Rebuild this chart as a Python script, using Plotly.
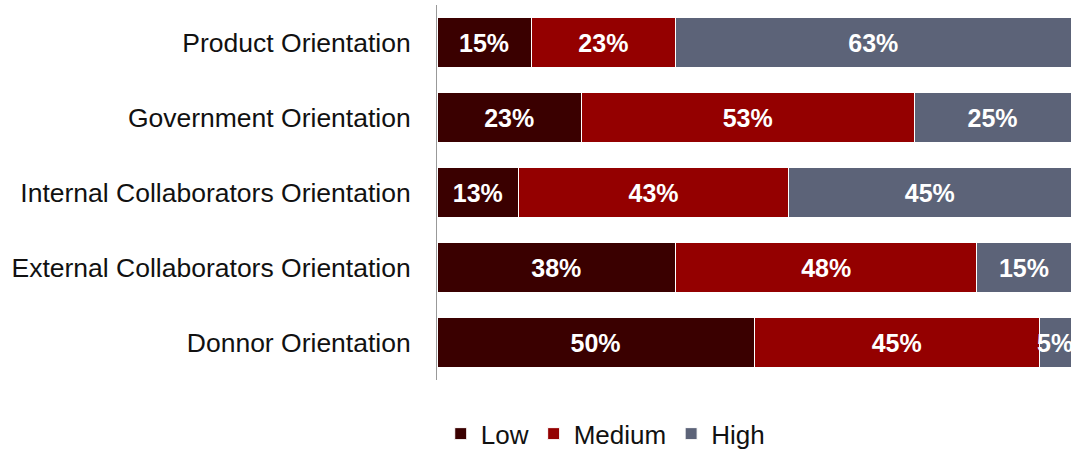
import plotly.graph_objects as go

categories = [
    "Product Orientation",
    "Government Orientation",
    "Internal Collaborators Orientation",
    "External Collaborators Orientation",
    "Donnor Orientation",
]
low = [15, 23, 13, 38, 50]
medium = [23, 53, 43, 48, 45]
high = [63, 25, 45, 15, 5]

series = [
    ("Low", low, "#3a0000"),
    ("Medium", medium, "#940000"),
    ("High", high, "#5c6378"),
]

fig = go.Figure()
for name, vals, color in series:
    fig.add_trace(go.Bar(
        y=categories,
        x=vals,
        name=name,
        orientation="h",
        marker=dict(color=color, line=dict(color="white", width=1)),
        text=[f"{v}%" for v in vals],
        textposition="inside",
        insidetextanchor="middle",
        textangle=0,
        constraintext="none",
        textfont=dict(family="Liberation Sans, Arial", size=25, color="white", weight="bold"),
        hoverinfo="skip",
    ))

fig.update_layout(
    barmode="stack",
    barnorm="percent",
    bargap=0.333,
    width=1075,
    height=449,
    margin=dict(l=437, r=4, t=5, b=69, autoexpand=False),
    paper_bgcolor="white",
    plot_bgcolor="white",
    font=dict(family="Liberation Sans, Arial", size=26, color="#111111"),
    xaxis=dict(range=[0, 100], visible=False),
    yaxis=dict(
        autorange="reversed",
        showline=True,
        linecolor="#999999",
        linewidth=1,
        showgrid=False,
        ticks="",
        ticklabelstandoff=20,
        tickfont=dict(size=26.5),
    ),
    legend=dict(
        orientation="h",
        xref="container",
        yref="container",
        x=0.563,
        xanchor="center",
        y=0.034,
        yanchor="middle",
        font=dict(size=26),
        traceorder="normal",
        itemwidth=30,
    ),
    showlegend=True,
)

fig.write_html("out.html")
